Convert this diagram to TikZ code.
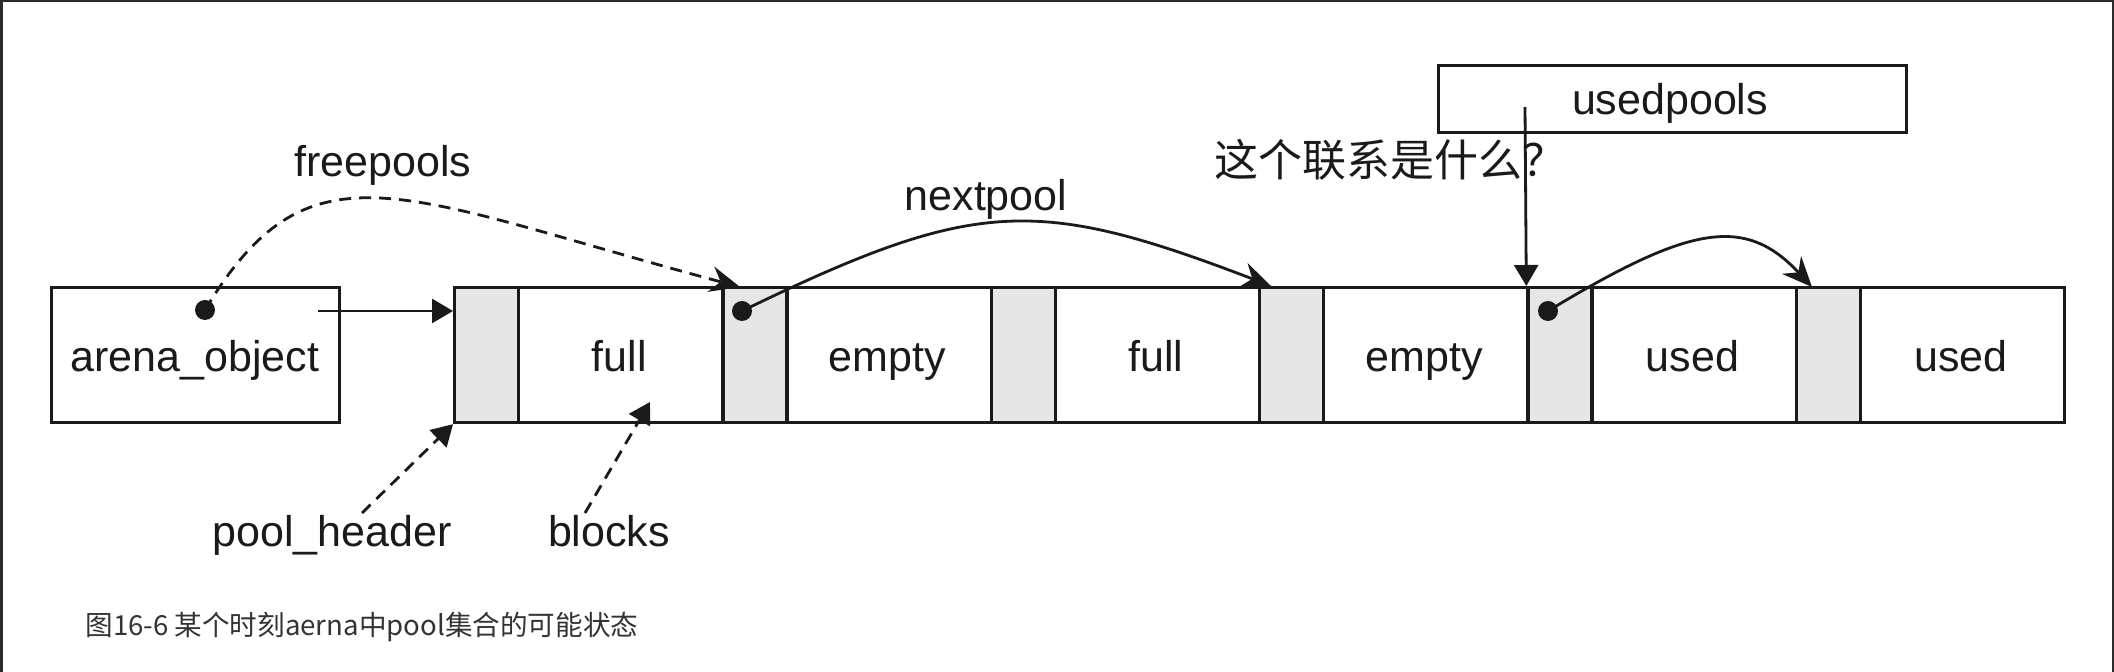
\documentclass[tikz,border=0pt]{standalone}
\usepackage{fontspec}
\setmainfont{Liberation Sans}
\newfontfamily\cjkf{Noto Sans CJK SC}
\usetikzlibrary{arrows.meta}
\definecolor{ink}{HTML}{1A1A1A}
\definecolor{hdrgray}{HTML}{E6E6E6}
\definecolor{framec}{HTML}{2B2B2B}
\definecolor{capc}{HTML}{333333}
\begin{document}
\begin{tikzpicture}[x=0.5pt,y=-0.5pt,
 box/.style={draw=ink,line width=1.6pt,rectangle,inner sep=0pt,anchor=north west,minimum height=67.5pt},
 hdr/.style={box,fill=hdrgray,minimum width=32pt},
 blk/.style={box,fill=white,minimum width=102.17pt},
 txt/.style={font=\fontsize{21.5pt}{26pt}\selectfont,text=ink,inner sep=0pt},
 ptxt/.style={txt,anchor=base},
 dot/.style={circle,fill=ink,inner sep=0pt,minimum size=10pt},
 sarr/.style={line width=1.4pt,draw=ink,-{Triangle[length=10.5pt,width=12pt]}},
 carr/.style={line width=1.4pt,draw=ink,-{Stealth[length=15pt,width=13pt,inset=5pt]}},
 dsh/.style={dash pattern=on 6pt off 4pt}]

\useasboundingbox (0,0) rectangle (2114,672);
\fill[white] (0,0) rectangle (2114,672);
\fill[framec] (0,0) rectangle (3,672);
\fill[framec] (0,0) rectangle (2114,2.5);
\fill[framec] (2111.5,0) rectangle (2114,672);

% arena object
\node[box,minimum width=144pt] (arena) at (50,286) {};
\node[ptxt] (arenal) at (195,372) {arena\_object};

% pools
\foreach \i/\lab in {0/full,1/empty,2/full,3/empty,4/used,5/used}{
  \pgfmathsetmacro{\s}{453+268.33*\i}
  \pgfmathsetmacro{\bs}{\s+64}
  \pgfmathsetmacro{\bc}{\s+166.2}
  \node[hdr] (h\i) at (\s,286) {};
  \node[blk] (b\i) at (\bs,286) {};
  \node[ptxt] (l\i) at (\bc,372) {\lab};
}

% usedpools
\node[box,minimum width=234pt,minimum height=33.5pt] (up) at (1437,64) {};
\node[ptxt] (upl) at (1670,115) {usedpools};

% labels
\node[ptxt] (fp) at (383,177) {freepools};
\node[ptxt] (np) at (986,211) {nextpool};
\node[ptxt] (ph) at (332,547) {pool\_header};
\node[ptxt] (bl) at (609,547) {blocks};
\node[font=\cjkf\fontsize{22pt}{26pt}\selectfont,text=ink,inner sep=0pt,anchor=west] (q) at (1214,160) {这个联系是什么？};
\node[font=\cjkf\fontsize{13.8pt}{17pt}\selectfont,text=capc,inner sep=0pt,anchor=west] (cap) at (85,627) {图16-6 某个时刻aerna中pool集合的可能状态};

% coordinates
\coordinate (fpend) at (740,287);
\coordinate (npend) at (1271,286);
\coordinate (usend) at (1812,287);
\coordinate (upstart) at (1525,107);
\coordinate (phs) at (362,513);
\coordinate (bls) at (585,513);
\coordinate (ble) at (650,402);
\coordinate (aas) at (318,311);

% dots
\node[dot] (ad) at (205,310) {};
\node[dot] (d1) at (742,311) {};
\node[dot] (d4) at (1548,311) {};

% connectors
\draw[carr,dsh] (ad.center) .. controls (310,135) and (400,196) .. (fpend);
\draw[carr] (d1.center) .. controls (975,198) and (1036,196) .. (npend);
\draw[carr] (d4.center) .. controls (1690,225) and (1745,215) .. (usend);
\draw[sarr] (upstart) -- (h4.north west);
\draw[sarr] (aas) -- (aas -| h0.west);
\draw[sarr,dsh] (phs) -- (h0.south west);
\draw[sarr,dsh] (bls) -- (ble);
\end{tikzpicture}
\end{document}
